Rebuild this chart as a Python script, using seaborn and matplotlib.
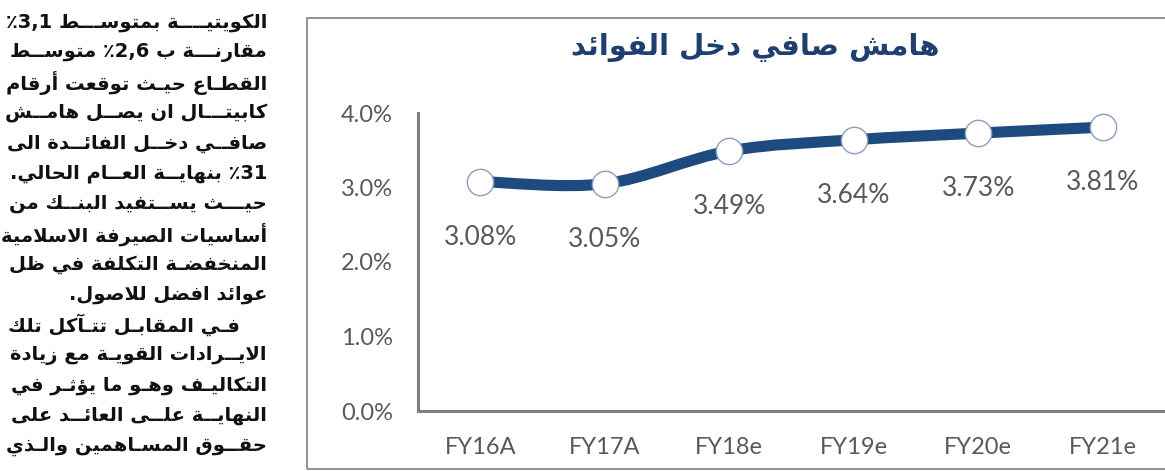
import re
import numpy as np
import matplotlib
matplotlib.use('Agg')
import matplotlib.pyplot as plt
from matplotlib.path import Path
from matplotlib.patches import PathPatch, Rectangle
from matplotlib.ticker import PercentFormatter
import seaborn as sns

# chart data
categories = ['FY16A', 'FY17A', 'FY18e', 'FY19e', 'FY20e', 'FY21e']
nim = [3.08, 3.05, 3.49, 3.64, 3.73, 3.81]
y_ticks = [0.0, 1.0, 2.0, 3.0, 4.0]
chart_title = 'هامش صافي دخل الفوائد'

# newspaper column next to the chart ('~' = where a kashida can stretch the line)
column_lines = [
    'الكويتي~ة بمتوس~ط ٪3,1',
    'مقارن~ة ب ٪2,6 متوس~ط',
    'القط~اع حي~ث توق~عت أرق~ام',
    'كابيت~ال ان يص~ل هام~ش',
    'صاف~ي دخ~ل الفائ~دة الى',
    '٪31 بنهاي~ة الع~ام الحالي.',
    'حي~ث يس~تفيد البن~ك من',
    'أساسيات الصيرف~ة الاسلامي~ة',
    'المنخفض~ة التكلف~ة في ظل',
    'عوائد افضل للاصول.',
    'ف~ي المقاب~ل تت~آكل تل~ك',
    'الاي~رادات القوي~ة مع زيادة',
    'التكالي~ف وه~و ما يؤث~ر في',
    'النهاي~ة عل~ى العائ~د على',
    'حق~وق المس~اهمين وال~ذي',
]
paragraph_end = 9  # 'عوائد افضل للاصول.' closes the first paragraph

# --- minimal arabic shaping (matplotlib has no text shaping) ---
AR_TABLE = [('ء', 0xFE80, 1), ('آ', 0xFE81, 2), ('أ', 0xFE83, 2), ('ؤ', 0xFE85, 2),
            ('إ', 0xFE87, 2), ('ئ', 0xFE89, 4), ('ا', 0xFE8D, 2), ('ب', 0xFE8F, 4),
            ('ة', 0xFE93, 2), ('ت', 0xFE95, 4), ('ث', 0xFE99, 4), ('ج', 0xFE9D, 4),
            ('ح', 0xFEA1, 4), ('خ', 0xFEA5, 4), ('د', 0xFEA9, 2), ('ذ', 0xFEAB, 2),
            ('ر', 0xFEAD, 2), ('ز', 0xFEAF, 2), ('س', 0xFEB1, 4), ('ش', 0xFEB5, 4),
            ('ص', 0xFEB9, 4), ('ض', 0xFEBD, 4), ('ط', 0xFEC1, 4), ('ظ', 0xFEC5, 4),
            ('ع', 0xFEC9, 4), ('غ', 0xFECD, 4), ('ف', 0xFED1, 4), ('ق', 0xFED5, 4),
            ('ك', 0xFED9, 4), ('ل', 0xFEDD, 4), ('م', 0xFEE1, 4), ('ن', 0xFEE5, 4),
            ('ه', 0xFEE9, 4), ('و', 0xFEED, 2), ('ى', 0xFEEF, 2), ('ي', 0xFEF1, 4)]
FORMS = {ch: [chr(b + k) for k in range(n)] for ch, b, n in AR_TABLE}
LAM_ALEF = {'آ': 0xFEF5, 'أ': 0xFEF7, 'إ': 0xFEF9, 'ا': 0xFEFB}
TATWEEL = 'ـ'


def links_left(c):
    return c == TATWEEL or len(FORMS.get(c, ())) == 4


def links_right(c):
    return c == TATWEEL or len(FORMS.get(c, ())) >= 2


def shape(text):
    out = []
    i = 0
    while i < len(text):
        c = text[i]
        prev = text[i - 1] if i > 0 else ''
        nxt = text[i + 1] if i + 1 < len(text) else ''
        join_prev = links_left(prev) and links_right(c)
        if c == 'ل' and nxt in LAM_ALEF:
            out.append(chr(LAM_ALEF[nxt] + int(join_prev)))
            i += 2
            continue
        forms = FORMS.get(c)
        if forms is None:
            out.append(c)
        else:
            join_next = len(forms) == 4 and links_right(nxt)
            if join_prev and join_next:
                out.append(forms[3])
            elif join_prev:
                out.append(forms[1])
            elif join_next:
                out.append(forms[2])
            else:
                out.append(forms[0])
        i += 1
    return ''.join(out)


LTR_RUN = re.compile(r'(٪?[0-9][0-9,]*)')


def visual(text):
    parts = LTR_RUN.split(shape(text))
    return ''.join(p if LTR_RUN.fullmatch(p) else p[::-1] for p in reversed(parts))


# --- figure ---
sns.set_style('white')
plt.rcParams['font.family'] = ['Lato', 'DejaVu Sans']

W, H = 1165, 471
fig = plt.figure(figsize=(W / 100, H / 100), dpi=100)
renderer = fig.canvas.get_renderer()

# frame around the chart (top edge at y=18 px, bottom near the image edge)
fig.patches.append(Rectangle((307 / W, 2 / H), 1.0, (H - 18 - 2) / H, transform=fig.transFigure,
                             fill=False, edgecolor='#8a8a8a', linewidth=1.3, figure=fig))

ax = fig.add_axes([418 / W, 60 / H, 747 / W, 298 / H])
xs = np.arange(len(categories))

# smoothed line like excel (catmull-rom bezier through the points)
pts = np.column_stack([xs, nim]).astype(float)
verts = [tuple(pts[0])]
codes = [Path.MOVETO]
for i in range(len(pts) - 1):
    p_prev = pts[max(i - 1, 0)]
    p_next = pts[min(i + 2, len(pts) - 1)]
    c1 = pts[i] + (pts[i + 1] - p_prev) / 6
    c2 = pts[i + 1] - (p_next - pts[i]) / 6
    verts += [tuple(c1), tuple(c2), tuple(pts[i + 1])]
    codes += [Path.CURVE4] * 3
ax.add_patch(PathPatch(Path(verts, codes), fill=False, edgecolor='#1d4a7f',
                       linewidth=8, capstyle='round', joinstyle='round', zorder=2))

sns.scatterplot(x=xs, y=nim, s=360, color='white', edgecolor='#8d9dbd',
                linewidth=1.0, zorder=3, ax=ax, clip_on=False)

for x, v in zip(xs, nim):
    ax.annotate(f'{v:.2f}%', (x, v), xytext=(0, -40), textcoords='offset points',
                ha='center', va='center', fontsize=19, color='#595959')

ax.set_xlim(-0.5, len(categories) - 0.5)
ax.set_ylim(y_ticks[0], y_ticks[-1])
ax.set_yticks(y_ticks)
ax.yaxis.set_major_formatter(PercentFormatter(xmax=100, decimals=1))
ax.set_xticks(np.arange(len(categories) + 1) - 0.5)
ax.set_xticklabels([])
ax.set_xticks(xs, minor=True)
ax.set_xticklabels(categories, minor=True)
ax.tick_params(axis='x', which='major', length=5, width=2, color='#808080', direction='out')
ax.tick_params(axis='x', which='minor', length=0, pad=19, labelsize=17, labelcolor='#595959')
ax.tick_params(axis='y', length=4, width=2, color='#808080', direction='out', pad=14,
               labelsize=17, labelcolor='#595959')
ax.set_xlabel('')
ax.set_ylabel('')
ax.grid(False)
for side in ['top', 'right']:
    ax.spines[side].set_visible(False)
for side in ['left', 'bottom']:
    ax.spines[side].set_color('#808080')
    ax.spines[side].set_linewidth(2.2)
ax.patch.set_alpha(0)

fig.text(755 / W, 1 - 48 / H, visual(chart_title), ha='center', va='center',
         fontsize=21, fontweight='bold', color='#1f3f70', family=['DejaVu Sans'])


# newspaper column, justified with kashidas
def place_line(raw, right_px, y_px, width_px, stretch):
    spots = raw.count('~')

    def build(ks):
        s = raw
        for k in ks:
            s = s.replace('~', TATWEEL * k, 1)
        return visual(s)

    t = fig.text(right_px / W, 1 - y_px / H, build([0] * spots), ha='right', va='center',
                 fontsize=14, fontweight='bold', color='#111111', family=['DejaVu Sans'])
    if stretch and spots:
        w0 = t.get_window_extent(renderer).width
        t.set_text(build([1] * spots))
        w1 = t.get_window_extent(renderer).width
        per = (w1 - w0) / spots
        total = max(0, int(round((width_px - w0) / per)))
        ks = [total // spots + (1 if j < total % spots else 0) for j in range(spots)]
        t.set_text(build(ks))
    return t


for n, line in enumerate(column_lines):
    y = 22 + 30.3 * n
    if n == paragraph_end:
        place_line(line, 267, y, 0, False)
    elif n == paragraph_end + 1:
        place_line(line, 240, y, 230, True)
    else:
        place_line(line, 267, y, 259, True)

fig.savefig('out.png', dpi=100)
